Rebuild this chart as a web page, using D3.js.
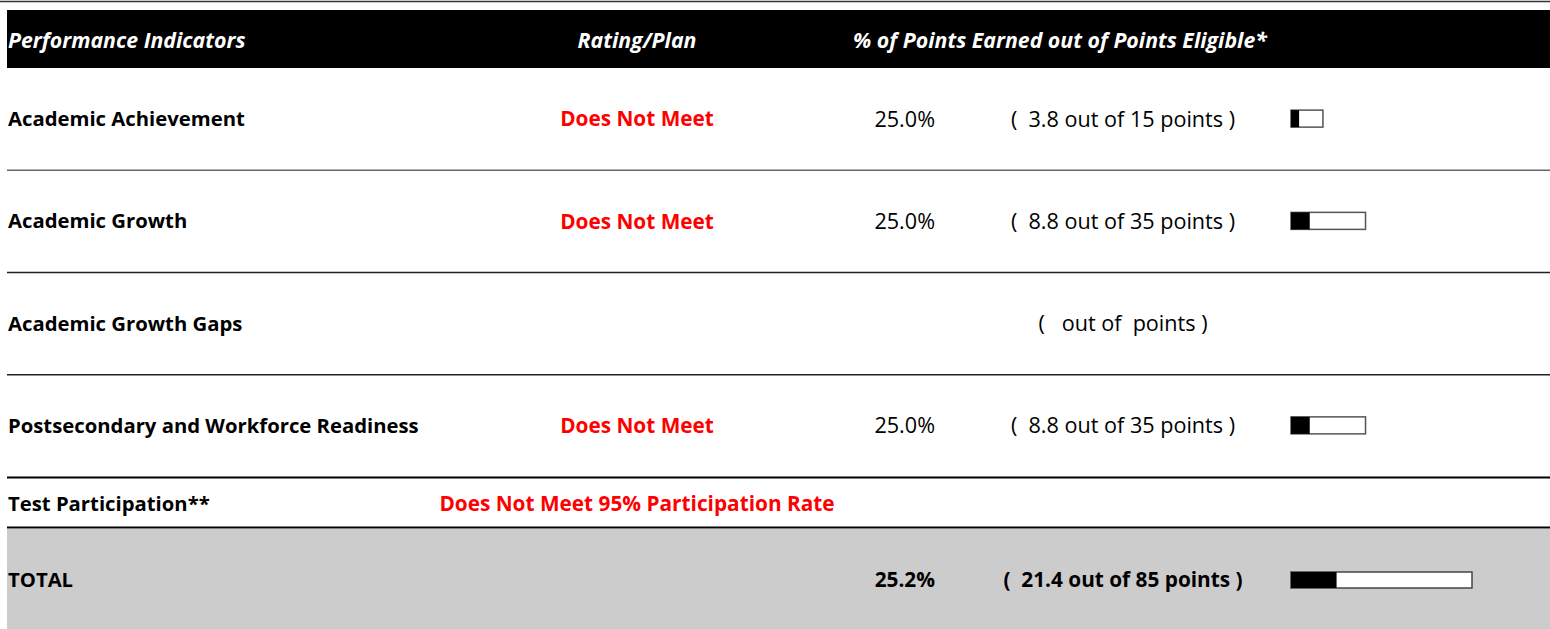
<!DOCTYPE html>
<html>
<head>
<meta charset="utf-8">
<script src="https://cdn.jsdelivr.net/npm/d3@7"></script>
<style>
  body { margin: 0; background: #fff; }
  svg { display: block; font-family: "Open Sans", sans-serif; }
</style>
</head>
<body>
<svg width="1550" height="629"></svg>
<script>
// table data
var headers = ["Performance Indicators", "Rating/Plan", "% of Points Earned out of Points Eligible*"];
var indicators = ["Academic Achievement", "Academic Growth", "Academic Growth Gaps", "Postsecondary and Workforce Readiness"];
var ratings = ["Does Not Meet", "Does Not Meet", "", "Does Not Meet"];
var pctEarned = [25.0, 25.0, null, 25.0];
var pointsEarned = [3.8, 8.8, null, 8.8];
var pointsEligible = [15, 35, null, 35];
var participationLabel = "Test Participation**";
var participationRating = "Does Not Meet 95% Participation Rate";
var totalLabel = "TOTAL";
var totalPct = 25.2, totalEarned = 21.4, totalEligible = 85;

var svg = d3.select("svg"),
    width = +svg.attr("width"),
    height = +svg.attr("height");

var left = 7;
var colName = 8, colRating = 637, colPct = 935, colPoints = 1123, colBar = 1291;
var fsName = 20.3, fsRed = 20.8, fsReg = 21.6, fsHdr = 21.3;

// rows of the indicator block
var y = d3.scaleBand()
    .domain(indicators)
    .range([68, 477]);

// points -> bar length
var x = d3.scaleLinear()
    .domain([0, totalEligible])
    .range([0, 181]);

function pointsText(e, t) {
    if (e == null) return "(   out of  points )";
    return "(  " + e.toFixed(1) + " out of " + t + " points )";
}

// top rule
svg.append("line")
    .attr("x1", 0).attr("x2", width)
    .attr("y1", 1.5).attr("y2", 1.5)
    .attr("stroke", "#333").attr("stroke-width", 1.5);

// header band
svg.append("rect")
    .attr("x", left).attr("y", 10)
    .attr("width", width - left).attr("height", 58)
    .attr("fill", "#000");

var hdr = svg.append("g")
    .attr("fill", "#fff")
    .attr("font-size", fsHdr)
    .attr("font-weight", "bold")
    .attr("font-style", "italic");
hdr.append("text").attr("x", colName).attr("y", 48).text(headers[0]);
hdr.append("text").attr("x", colRating).attr("y", 48).attr("text-anchor", "middle").text(headers[1]);
hdr.append("text").attr("x", 1060).attr("y", 48).attr("text-anchor", "middle").text(headers[2]);

// indicator rows
var row = svg.append("g").selectAll("g")
    .data(indicators)
    .enter().append("g")
    .attr("transform", function(d) { return "translate(0," + (y(d) + y.bandwidth() / 2) + ")"; });

row.append("text")
    .attr("x", colName).attr("dy", "0.35em")
    .attr("font-size", fsName).attr("font-weight", "bold")
    .text(function(d) { return d; });

row.append("text")
    .attr("x", colRating).attr("dy", "0.35em")
    .attr("text-anchor", "middle")
    .attr("font-size", fsRed).attr("font-weight", "bold")
    .attr("fill", "#ff0000")
    .text(function(d, i) { return ratings[i]; });

row.append("text")
    .attr("x", colPct).attr("dy", "0.35em")
    .attr("text-anchor", "end")
    .attr("font-size", fsReg)
    .text(function(d, i) { return pctEarned[i] == null ? "" : pctEarned[i].toFixed(1) + "%"; });

row.append("text")
    .attr("x", colPoints).attr("dy", "0.35em")
    .attr("text-anchor", "middle")
    .attr("font-size", fsReg)
    .style("white-space", "pre")
    .text(function(d, i) { return pointsText(pointsEarned[i], pointsEligible[i]); });

var barRows = row.filter(function(d, i) { return pointsEligible[i] != null; });
barRows.append("rect")
    .attr("x", colBar).attr("y", -9)
    .attr("width", function(d) { return x(pointsEligible[indicators.indexOf(d)]); })
    .attr("height", 17)
    .attr("fill", "#fff").attr("stroke", "#555").attr("stroke-width", 1.5);
barRows.append("rect")
    .attr("x", colBar).attr("y", -9)
    .attr("width", function(d) { return x(pointsEarned[indicators.indexOf(d)]); })
    .attr("height", 17)
    .attr("fill", "#000");

// row separators
svg.append("g").selectAll("line")
    .data(indicators.slice(0, 3))
    .enter().append("line")
    .attr("x1", left).attr("x2", width)
    .attr("y1", function(d) { return y(d) + y.bandwidth(); })
    .attr("y2", function(d) { return y(d) + y.bandwidth(); })
    .attr("stroke", function(d, i) { return i == 0 ? "#666" : "#222"; })
    .attr("stroke-width", 1.3);

svg.append("line")
    .attr("x1", left).attr("x2", width)
    .attr("y1", 477.5).attr("y2", 477.5)
    .attr("stroke", "#000").attr("stroke-width", 1.8);

// test participation row
svg.append("text")
    .attr("x", colName).attr("y", 504).attr("dy", "0.35em")
    .attr("font-size", fsName).attr("font-weight", "bold")
    .text(participationLabel);
svg.append("text")
    .attr("x", colRating).attr("y", 504).attr("dy", "0.35em")
    .attr("text-anchor", "middle")
    .attr("font-size", fsRed).attr("font-weight", "bold")
    .attr("fill", "#ff0000")
    .text(participationRating);

svg.append("line")
    .attr("x1", left).attr("x2", width)
    .attr("y1", 527.5).attr("y2", 527.5)
    .attr("stroke", "#000").attr("stroke-width", 2);

// total row
svg.append("rect")
    .attr("x", left).attr("y", 529)
    .attr("width", width - left).attr("height", height - 529)
    .attr("fill", "#cccccc");

var tot = svg.append("g")
    .attr("transform", "translate(0,580)")
    .attr("font-weight", "bold");
tot.append("text").attr("x", colName).attr("dy", "0.35em")
    .attr("font-size", fsName).text(totalLabel);
tot.append("text").attr("x", colPct).attr("dy", "0.35em").attr("text-anchor", "end")
    .attr("font-size", fsRed).text(totalPct.toFixed(1) + "%");
tot.append("text").attr("x", colPoints).attr("dy", "0.35em").attr("text-anchor", "middle")
    .attr("font-size", fsRed).style("white-space", "pre")
    .text(pointsText(totalEarned, totalEligible));
tot.append("rect")
    .attr("x", colBar).attr("y", -8)
    .attr("width", x(totalEligible)).attr("height", 16)
    .attr("fill", "#fff").attr("stroke", "#444").attr("stroke-width", 1.5);
tot.append("rect")
    .attr("x", colBar).attr("y", -8)
    .attr("width", x(totalEarned)).attr("height", 16)
    .attr("fill", "#000");
</script>
</body>
</html>
